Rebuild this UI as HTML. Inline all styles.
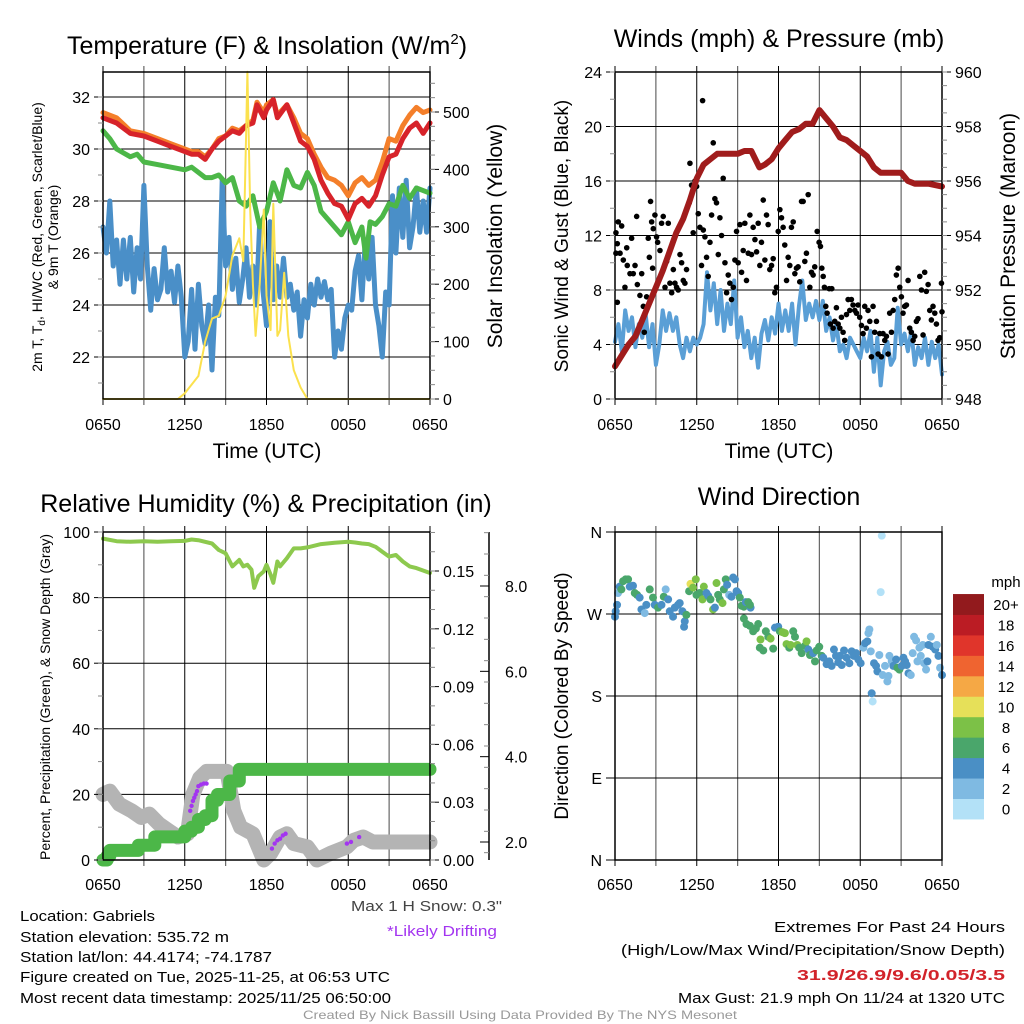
<!DOCTYPE html>
<html><head><meta charset="utf-8"><style>
html,body{margin:0;padding:0;background:#fff}
svg{display:block;font-family:"Liberation Sans",Arial,sans-serif}
</style></head><body>
<svg id="fig" width="1024" height="1024" viewBox="0 0 1024 1024" xmlns="http://www.w3.org/2000/svg">
<rect width="1024" height="1024" fill="#fff"/>
<g id="grids"></g><g id="series"></g><g id="axes"></g>
<g font-size="25" text-anchor="middle" fill="#000">
<text x="267" y="54">Temperature (F) &amp; Insolation (W/m<tspan dy="-10" font-size="15">2</tspan><tspan dy="10">)</tspan></text>
<text x="779" y="47">Winds (mph) &amp; Pressure (mb)</text>
<text x="266" y="512">Relative Humidity (%) &amp; Precipitation (in)</text>
<text x="779" y="505">Wind Direction</text>
</g>
<g font-size="21" text-anchor="middle">
<text x="267" y="458">Time (UTC)</text>
<text x="779" y="458">Time (UTC)</text>
<text transform="translate(502,236) rotate(-90)" font-size="21">Solar Insolation (Yellow)</text>
<text transform="translate(568,236) rotate(-90)" font-size="19">Sonic Wind &amp; Gust (Blue, Black)</text>
<text transform="translate(1015,236) rotate(-90)" font-size="21">Station Pressure (Maroon)</text>
<text transform="translate(568,696) rotate(-90)" font-size="19">Direction (Colored By Speed)</text>
<text transform="translate(42,237) rotate(-90)" font-size="14">2m T, T<tspan font-size="10" dy="3">d</tspan><tspan dy="-3">, HI/WC (Red, Green, Scarlet/Blue)</tspan></text>
<text transform="translate(58,237) rotate(-90)" font-size="14">&amp; 9m T (Orange)</text>
<text transform="translate(50,697) rotate(-90)" font-size="14">Percent, Precipitation (Green), &amp; Snow Depth (Gray)</text>
</g>
<g font-size="15">
<text x="502" y="911" text-anchor="end" fill="#444" textLength="151" lengthAdjust="spacingAndGlyphs">Max 1 H Snow: 0.3"</text>
<text x="497" y="936" text-anchor="end" fill="#a335f0" textLength="110" lengthAdjust="spacingAndGlyphs">*Likely Drifting</text>
<text x="20" y="921" textLength="135" lengthAdjust="spacingAndGlyphs">Location: Gabriels</text>
<text x="20" y="942" textLength="209" lengthAdjust="spacingAndGlyphs">Station elevation: 535.72 m</text>
<text x="20" y="962" textLength="252" lengthAdjust="spacingAndGlyphs">Station lat/lon: 44.4174; -74.1787</text>
<text x="20" y="982" textLength="370" lengthAdjust="spacingAndGlyphs">Figure created on Tue, 2025-11-25, at 06:53 UTC</text>
<text x="20" y="1003" textLength="371" lengthAdjust="spacingAndGlyphs">Most recent data timestamp: 2025/11/25 06:50:00</text>
<text x="1005" y="932" text-anchor="end" textLength="231" lengthAdjust="spacingAndGlyphs">Extremes For Past 24 Hours</text>
<text x="1005" y="955" text-anchor="end" textLength="384" lengthAdjust="spacingAndGlyphs">(High/Low/Max Wind/Precipitation/Snow Depth)</text>
<text x="1005" y="980" text-anchor="end" fill="#d2232a" font-weight="bold" textLength="208" lengthAdjust="spacingAndGlyphs">31.9/26.9/9.6/0.05/3.5</text>
<text x="1005" y="1003" text-anchor="end" textLength="327" lengthAdjust="spacingAndGlyphs">Max Gust: 21.9 mph On 11/24 at 1320 UTC</text>
<text x="520" y="1019" text-anchor="middle" fill="#999" font-size="12" textLength="434" lengthAdjust="spacingAndGlyphs">Created By Nick Bassill Using Data Provided By The NYS Mesonet</text>
</g>
</svg>
<script>
// ---------- data ----------
const xTickLabels=["0650","1250","1850","0050","0650"];
const tempTicks=[22,24,26,28,30,32];
const insolTicks=[0,100,200,300,400,500];
const windTicks=[0,4,8,12,16,20,24];
const presTicks=[948,950,952,954,956,958,960];
const rhTicks=[0,20,40,60,80,100];
const precipTicks=["0.00","0.03","0.06","0.09","0.12","0.15"];
const snowTicks=["2.0","4.0","6.0","8.0"];
const dirTickLabels=["N","E","S","W","N"];
const speedLabels=["0","2","4","6","8","10","12","14","16","18","20+"];
const speedColors=["#b3e1f7","#7fbae2","#4a8fc5","#4aa66b","#7cc147","#e6e059","#f5a845","#ef6430","#e0352b","#bb1c24","#921a1d"];

const tempHours=[0,1,2,3,4,5,6,6.5,7,7.5,8,8.5,9,9.5,10,10.5,11,11.3,11.8,12,12.5,12.8,13.5,14,14.5,15,15.5,16,16.5,17,17.5,18,18.5,19,19.5,20,20.5,21,21.5,22,22.5,23,23.5,24];
const orangeT=[31.4,31.2,30.7,30.6,30.4,30.2,30.0,29.9,29.9,29.7,30.0,30.4,30.5,30.8,30.7,30.9,31.1,31.8,31.4,31.7,31.9,31.3,31.7,31.2,30.6,30.4,29.8,29.3,28.9,28.8,28.6,28.2,28.7,28.9,28.6,28.8,29.5,30.4,30.3,30.9,31.3,31.6,31.4,31.5];
const redT=[31.2,31.0,30.6,30.5,30.3,30.1,29.9,29.8,29.8,29.6,30.0,30.3,30.5,30.7,30.6,30.9,31.0,31.7,31.2,31.5,31.9,31.2,31.7,31.0,30.3,30.1,29.6,28.8,28.3,27.9,27.8,27.3,27.9,28.1,27.8,28.2,29.0,29.7,29.8,30.4,30.8,31.0,30.6,31.0];
const greenHours=[0,0.5,1,2,2.5,3,4,5,6,6.5,7,7.5,8,8.5,9,9.5,10,10.5,11,11.5,12,12.5,13,13.5,14,14.5,15,15.5,16,16.5,17,17.5,18,18.5,19,19.3,19.6,20,20.5,21,21.5,22,22.5,23,23.5,24];
const greenT=[30.7,30.4,30.0,29.7,29.8,29.5,29.4,29.3,29.2,29.3,29.1,28.9,28.9,29.0,28.7,28.9,28.0,27.8,28.2,27.0,27.6,28.7,28.0,29.2,28.6,28.5,29.1,28.6,27.6,27.3,27.0,26.7,27.2,26.4,27.0,25.8,27.2,27.1,27.4,27.9,27.8,28.6,28.1,28.5,28.4,28.3];
const blueT=[27.0,26.0,28.0,25.5,26.5,24.8,26.5,25.0,26.6,24.5,26.2,25.0,28.6,25.5,23.8,25.4,24.2,24.6,26.2,24.5,25.3,24.1,25.5,24.3,22.0,22.6,24.6,22.3,24.8,23.2,22.5,24.0,21.5,24.3,23.6,28.8,25.5,26.6,24.6,25.8,24.1,25.0,26.2,24.3,25.5,24.0,27.2,24.5,23.2,27.2,24.2,25.5,24.3,25.8,24.3,24.8,23.8,24.5,22.8,24.2,23.5,24.8,24.0,25.0,24.3,24.9,24.2,24.6,22.0,23.0,22.3,23.5,24.0,23.8,25.3,25.9,24.2,26.5,25.0,26.6,24.0,23.2,22.0,24.5,24.0,28.2,26.0,28.5,26.6,28.8,26.2,27.0,28.5,26.8,28.0,26.8,28.5];
const insolHours=[0,5.5,6,7,7.5,8,8.5,9,9.5,10,10.3,10.5,10.6,10.8,11.0,11.2,11.5,11.8,12.0,12.3,12.5,12.8,13.0,13.3,13.6,14.0,14.5,15,24];
const insolation=[0,0,10,40,100,140,145,180,250,280,240,460,570,330,200,110,200,330,180,120,340,110,120,220,110,50,20,0,0];

const presHours=[0,0.5,1,1.5,2,2.5,3,3.5,4,4.5,5,5.5,6,6.5,7,7.5,8,8.5,9,9.5,10,10.6,11,11.5,12,12.5,13,13.5,14,14.5,15,15.5,16,16.5,17,17.5,18,18.5,19,19.5,20,20.5,21,21.5,22,23,24];
const pressure=[949.2,949.6,950.0,950.3,950.9,951.5,952.1,952.7,953.4,954.1,954.6,955.3,956.1,956.6,956.8,957.0,957.0,957.0,957.0,957.1,957.1,956.5,956.6,956.8,957.2,957.5,957.8,957.9,958.1,958.1,958.6,958.3,958.0,957.6,957.5,957.3,957.1,956.9,956.5,956.3,956.3,956.3,956.3,956.0,955.9,955.9,955.8];
const sonicWind=[4.2,5.5,3.5,6.5,5.0,6.0,3.8,5.5,4.5,6.2,3.8,5.5,2.5,4.0,6.5,5.0,6.3,5.0,6.0,4.0,3.0,4.5,3.5,4.5,4.0,4.5,5.5,9.3,6.5,8.5,5.5,8.0,5.0,7.0,5.5,8.7,4.5,6.0,3.8,5.0,3.0,4.5,2.3,4.8,5.8,4.3,6.0,4.8,7.0,5.0,6.5,5.0,7.0,4.0,6.8,8.7,5.8,7.0,6.0,7.2,5.8,7.2,5.0,6.0,4.3,5.5,3.5,4.0,3.0,4.5,4.0,3.5,3.0,4.5,3.5,5.0,2.0,4.5,1.0,3.5,4.2,2.5,3.0,6.7,4.0,4.8,3.5,5.0,2.5,3.8,3.0,4.5,2.5,4.2,3.0,4.0,1.8];
const gustHours=[0.07,0.07,0.24,0.17,0.17,0.49,0.37,0.61,0.73,0.86,0.9,1.1,1.22,1.34,1.47,1.59,1.64,1.83,1.96,2.08,2.15,2.32,2.44,2.52,2.61,2.69,2.81,2.76,2.93,3.05,3.13,3.3,3.42,3.54,3.67,3.79,3.91,4.03,4.16,4.28,4.4,4.52,4.64,4.77,4.89,5.01,5.13,5.25,5.45,5.5,5.62,5.74,5.87,5.99,6.11,6.23,6.35,6.43,6.48,6.6,6.72,6.84,6.97,7.09,7.21,7.33,7.45,7.58,7.7,7.82,7.94,8.07,8.19,8.31,8.43,8.55,8.68,8.8,8.92,9.04,9.17,9.29,9.41,9.53,9.65,9.78,9.9,10.02,10.14,10.27,10.39,10.51,10.63,10.75,10.88,11.0,11.12,11.24,11.36,11.49,11.61,11.73,11.85,11.98,12.1,12.22,12.34,12.46,12.59,12.71,12.83,12.95,13.08,13.2,13.32,13.44,13.56,13.69,13.81,13.93,14.05,14.18,14.3,14.42,14.54,14.66,14.84,14.98,15.08,15.18,15.28,15.37,15.47,15.57,15.72,15.81,15.91,16.01,16.13,16.25,16.38,16.5,16.62,16.74,16.86,16.99,17.11,17.23,17.35,17.47,17.6,17.72,17.84,17.96,18.09,18.21,18.33,18.45,18.57,18.7,18.82,18.94,19.06,19.19,19.31,19.43,19.55,19.67,19.8,19.92,20.04,20.16,20.29,20.41,20.53,20.65,20.78,20.9,21.02,21.14,21.26,21.39,21.51,21.63,21.75,21.88,22.0,22.12,22.24,22.37,22.49,22.61,22.73,22.85,22.98,23.1,23.22,23.34,23.47,23.59,23.71,23.83,23.96,24.0];
const gustSpeed=[12.2,10.7,13.0,11.4,7.1,12.7,10.7,10.2,8.2,11.1,9.8,9.2,11.8,9.2,9.8,13.4,8.4,7.6,9.2,6.8,4.9,7.5,11.8,10.4,14.5,13.0,12.5,9.6,13.5,11.9,11.5,10.9,12.9,13.4,8.2,10.1,12.9,8.5,7.8,9.5,8.5,8.2,8.0,10.6,10.0,8.7,8.5,9.5,14.4,17.3,15.7,12.2,16.0,15.6,13.6,12.6,9.8,21.9,12.4,11.9,10.4,9.0,11.5,13.5,18.8,14.7,14.4,10.6,13.3,12.0,16.2,10.0,7.8,9.1,8.5,7.3,8.2,10.2,12.3,10.0,12.8,9.3,10.9,12.9,8.7,10.7,13.5,10.6,12.6,11.7,10.8,12.9,9.8,11.5,14.6,10.2,13.5,12.8,9.5,9.8,10.3,7.8,8.2,12.3,13.9,13.3,12.6,11.3,8.7,10.4,9.8,12.6,13.0,9.2,9.6,9.7,8.6,14.5,14.5,10.1,10.7,15.0,8.2,9.3,9.1,9.7,12.3,11.5,11.2,9.6,9.0,8.2,6.8,6.3,8.1,5.5,8.1,5.2,5.7,6.7,5.5,5.2,6.0,4.9,4.3,6.2,7.3,6.5,7.3,6.9,6.5,6.3,6.9,6.0,5.4,4.8,6.8,5.2,6.5,5.7,3.1,6.8,4.9,5.7,3.3,4.8,3.1,4.8,4.3,4.6,3.3,6.3,4.9,6.5,7.3,9.1,9.6,8.2,7.5,6.3,6.8,6.9,8.7,5.2,4.9,4.3,4.6,5.7,5.9,9.0,8.0,4.7,9.3,7.9,8.4,6.5,5.8,6.8,6.3,5.5,4.3,4.5,8.5,6.4];

const rhHours=[0,1,2,3,4,5,6,6.5,7,8,8.5,9,9.5,10,10.3,10.6,10.9,11.1,11.4,11.8,12,12.3,12.5,12.8,13,13.5,14,14.5,15,16,17,18,18.5,19,19.5,20,20.5,21,21.5,22,22.5,23,24];
const rh=[98,97.2,97,97.2,97,97.2,97.3,97.7,97.5,96.5,94.5,93.5,89.5,91.5,89.5,90,88.5,83,86.5,88,90,87,84.5,91,89.5,92,95,95,95.3,96.3,96.7,97,96.8,96.5,96.3,95.5,94,92.5,93,91,89.5,89,87.5];
const precipHours=[0,0.3,0.5,2.5,2.6,3.7,3.8,5.8,6.0,6.5,7.0,7.5,8.0,8.4,9.0,9.3,9.8,10.0,24];
const precip=[0,0.002,0.005,0.005,0.0077,0.0077,0.012,0.012,0.015,0.017,0.021,0.023,0.031,0.034,0.034,0.041,0.041,0.047,0.047];
const snowHours=[0,0.5,1.2,2.1,2.8,3.4,4.1,4.8,5.5,6.2,6.6,7.1,7.6,9.1,9.6,10.1,11.0,11.8,12.3,13.0,13.5,14.0,15.0,15.7,16.7,17.9,18.4,19.1,19.8,24];
const snowDepth=[20,21,17,15,13,14,11,9,7,8,20,25,27,27,15,10,8,0,2,7,8,5,4,0,2,4,6,7,5.5,5.5];
const driftHours=[6.4,6.5,6.6,6.7,6.8,6.9,7.0,7.2,7.4,7.6,12.4,12.6,12.8,13.0,13.2,13.4,17.9,18.2,18.8];
const driftValues=[15,16.5,18,19,20,21,22.5,23,23.3,23.3,3.5,5,6,6.5,7.5,8,5,5.5,7];

const dirHours=[0,0.05,0.15,0.22,0.34,0.47,0.59,0.78,0.96,1.08,1.32,1.45,1.62,1.81,1.94,2.18,2.3,2.55,2.79,2.92,3.16,3.41,3.58,3.72,3.9,4.02,4.26,4.39,4.63,4.75,4.95,5.12,5.24,5.07,5.44,5.54,5.73,5.93,5.98,6.22,6.42,6.52,6.71,6.84,7.01,7.2,7.33,7.45,7.57,7.69,7.89,7.99,8.13,8.23,8.38,8.55,8.67,8.8,8.92,9.04,9.16,9.29,9.46,9.6,9.78,9.95,9.9,9.46,9.65,9.9,10.14,10.34,10.51,10.68,10.63,10.88,11.07,11.25,11.42,11.61,11.74,11.98,12.1,12.3,12.47,12.59,12.79,12.89,13.08,13.21,13.38,13.52,13.7,13.94,14.06,14.19,14.31,14.55,14.68,14.8,14.99,15.17,15.29,15.53,15.73,15.9,16.07,16.22,16.39,16.51,16.64,16.81,17.0,17.2,17.37,17.54,17.69,17.86,18.03,18.23,18.35,18.52,18.6,18.67,18.77,18.84,18.91,19.01,19.16,19.26,19.4,19.5,19.58,19.65,19.82,19.99,20.07,20.14,20.31,20.43,20.63,20.73,20.87,21.05,21.17,21.29,21.41,21.54,21.71,21.85,21.95,22.1,22.2,22.34,22.44,22.59,22.69,22.83,22.93,23.01,23.18,23.32,23.5,23.62,23.74,23.86,24.0];
const dirDegrees=[267,273,280,293,300,297,306,308,308,300,301,293,291,288,275,271,280,297,288,280,277,280,289,297,286,273,267,277,280,282,273,262,269,256,295,303,299,308,291,293,286,300,293,290,286,275,277,304,291,286,282,297,308,302,291,289,310,308,295,293,288,279,278,283,283,277,280,265,259,257,251,254,259,242,233,230,251,245,243,232,255,256,251,250,249,237,233,236,251,245,236,233,227,235,240,231,225,227,218,230,234,224,222,215,218,213,231,224,217,224,214,230,222,216,229,224,227,220,216,233,238,240,249,253,229,183,174,216,213,207,225,294,356,203,213,196,202,224,218,213,220,211,209,213,222,218,214,205,203,227,245,241,218,233,224,236,216,209,218,236,245,234,231,236,224,211,203];
const dirSpeeds=[4.5,4.5,4.5,2.5,4.5,6.5,6.5,6.5,6.5,4.5,4.5,6.5,6.5,4.5,4.5,2.5,4.5,6.5,6.5,4.5,6.5,4.5,6.5,2.5,4.5,4.5,4.5,4.5,4.5,4.5,4.5,4.5,6.5,4.5,6.5,10.5,8.5,8.5,6.5,6.5,8.5,8.5,4.5,4.5,6.5,8.5,4.5,8.5,6.5,6.5,8.5,6.5,6.5,4.5,2.5,4.5,4.5,4.5,4.5,4.5,6.5,6.5,6.5,4.5,6.5,4.5,6.5,6.5,6.5,6.5,6.5,6.5,6.5,8.5,6.5,6.5,6.5,6.5,8.5,6.5,4.5,4.5,6.5,8.5,8.5,8.5,6.5,8.5,6.5,6.5,8.5,6.5,6.5,6.5,8.5,4.5,6.5,4.5,6.5,6.5,6.5,6.5,4.5,4.5,4.5,4.5,4.5,4.5,4.5,4.5,4.5,4.5,4.5,4.5,4.5,4.5,4.5,4.5,4.5,2.5,4.5,4.5,2.5,2.5,2.5,4.5,0.5,4.5,4.5,4.5,2.5,0.5,0.5,2.5,2.5,2.5,2.5,2.5,2.5,4.5,4.5,6.5,6.5,4.5,4.5,4.5,4.5,4.5,2.5,2.5,2.5,2.5,2.5,2.5,2.5,2.5,2.5,2.5,4.5,4.5,2.5,4.5,4.5,2.5,4.5,2.5,4.5];

// ---------- helpers ----------
const NS="http://www.w3.org/2000/svg";
const G=id=>document.getElementById(id);
function mk(tag,attrs,parent){const e=document.createElementNS(NS,tag);for(const k in attrs)e.setAttribute(k,attrs[k]);(parent||G('series')).appendChild(e);return e;}
function lin(d0,d1,r0,r1){return v=>r0+(v-d0)/(d1-d0)*(r1-r0);}
function pathFrom(xs,ys,fx,fy){return xs.map((t,i)=>(i?'L':'M')+fx(t).toFixed(1)+','+fy(ys[i]).toFixed(1)).join('');}
function uniformHours(n){return Array.from({length:n},(_,i)=>i*24/(n-1));}

const P=[{x0:103,x1:430,y0:72,y1:399,lo:31},{x0:615,x1:942,y0:72,y1:399,lo:31},{x0:103,x1:430,y0:532,y1:860,lo:30},{x0:615,x1:942,y0:532,y1:860,lo:30}];
const TF=16;

P.forEach((p,k)=>{
  const fx=lin(0,24,p.x0,p.x1);
  for(let h=0;h<=24;h+=3){
    const l=mk('line',{x1:fx(h),x2:fx(h),y1:p.y0-6,y2:p.y1+6,stroke:'#000','stroke-width':(h%6?1.2:1),'stroke-opacity':(h%6?0.6:1)},G('grids'));
    
    
  }
  xTickLabels.forEach((s,i)=>{
    const t=mk('text',{x:fx(i*6),y:p.y1+p.lo,'font-size':TF,'text-anchor':'middle'},G('axes'));t.textContent=s;
    
    
  });
  const r=mk('rect',{x:p.x0,y:p.y0,width:p.x1-p.x0,height:p.y1-p.y0,fill:'none',stroke:'#000','stroke-width':1.5},G('axes'));
  
  
});
function yAxis(p,ticks,fy,labels,side,grid,minorStep,d0,d1){
  ticks.forEach((v,i)=>{
    const y=fy(v);
    if(grid){const g=mk('line',{x1:p.x0,x2:p.x1,y1:y,y2:y,stroke:'#000','stroke-width':1},G('grids'));
      
      }
    const xe=side==='l'?p.x0:p.x1;
    mk('line',{x1:xe,x2:xe+(side==='l'?-9:9),y1:y,y2:y,stroke:'#000','stroke-width':1},G('axes'));
    const t=mk('text',{x:side==='l'?p.x0-13:p.x1+13,y:y+6,'font-size':TF,'text-anchor':side==='l'?'end':'start'},G('axes'));
    t.textContent=labels?labels[i]:v;
    
    
  });
  if(minorStep){for(let v=d0;v<=d1+1e-9;v+=minorStep){const y=fy(v);const xe=side==='l'?p.x0:p.x1;
    mk('line',{x1:xe,x2:xe+(side==='l'?-5:5),y1:y,y2:y,stroke:'#888','stroke-width':1},G('axes'));}}
}
// Panel 1
const p1=P[0];
const fx1=lin(0,24,p1.x0,p1.x1), fyT=lin(22,32,357,97), fyI=lin(0,500,399,112);
yAxis(p1,tempTicks,fyT,null,'l',true,1,21,32);
yAxis(p1,insolTicks,fyI,null,'r',false,25,0,550);
function drawLine(xs,ys,fx,fy,color,w,name){const e=mk('path',{d:pathFrom(xs,ys,fx,fy),fill:'none',stroke:color,'stroke-width':w,'stroke-linejoin':'round','stroke-linecap':'round'});
  
  return e;}
drawLine(uniformHours(blueT.length),blueT,fx1,fyT,'#4a8fc8',5,'dewpoint-line');
drawLine(greenHours,greenT,fx1,fyT,'#4cb748',5,'wetbulb-line');
drawLine(tempHours,orangeT,fx1,fyT,'#f47f2a',5,'9m-temperature-line');
drawLine(tempHours,redT,fx1,fyT,'#d7232a',5,'2m-temperature-line');
drawLine(insolHours,insolation,fx1,fyI,'#fbe14e',2,'insolation-line');

// Panel 2
const p2=P[1];
const fx2=lin(0,24,p2.x0,p2.x1), fyW=lin(0,24,p2.y1,p2.y0), fyP=lin(948,960,p2.y1,p2.y0);
yAxis(p2,windTicks,fyW,null,'l',true,2,0,24);
yAxis(p2,presTicks,fyP,null,'r',false,0.5,948,960);
drawLine(uniformHours(sonicWind.length),sonicWind,fx2,fyW,'#5a9fd6',4,'sonic-wind-line');
gustHours.forEach((h,i)=>{const c=mk('circle',{cx:fx2(h),cy:fyW(gustSpeed[i]),r:2.8,fill:'#000'});
  
  });
drawLine(presHours,pressure,fx2,fyP,'#a01c1c',6,'pressure-line');

// Panel 3
const p3=P[2];
const fx3=lin(0,24,p3.x0,p3.x1), fyR=lin(0,100,p3.y1,p3.y0), fyPr=lin(0,0.15,860,571), fyS=lin(2,8,842,586);
yAxis(p3,rhTicks,fyR,null,'l',true,10,0,100);
yAxis(p3,precipTicks.map(Number),fyPr,precipTicks,'r',false,0.01,0,0.17);
mk('line',{x1:489,x2:489,y1:532,y2:860,stroke:'#000','stroke-width':1.5},G('axes'));
snowTicks.forEach(s=>{const y=fyS(Number(s));mk('line',{x1:489,x2:480,y1:y,y2:y,stroke:'#000'},G('axes'));
  const t=mk('text',{x:505,y:y+6,'font-size':TF},G('axes'));t.textContent=s;
  
  });
for(let v=1.75;v<=9.25;v+=0.5){const y=fyS(v);mk('line',{x1:489,x2:484,y1:y,y2:y,stroke:'#888'},G('axes'));}
drawLine(snowHours,snowDepth,fx3,fyR,'#b4b4b4',15,'snow-depth-line');
driftHours.forEach((h,i)=>{const c=mk('circle',{cx:fx3(h),cy:fyR(driftValues[i]),r:2.2,fill:'#a335f0'});
  
  });
(function(){const sx=[],sy=[];precipHours.forEach((h,i)=>{if(i){sx.push(h);sy.push(precip[i-1]);}sx.push(h);sy.push(precip[i]);});
  drawLine(sx,sy,fx3,fyPr,'#4cb748',13,'precipitation-line');})();
drawLine(rhHours,rh,fx3,fyR,'#8dc94e',4,'humidity-line');

// Panel 4
const p4=P[3];
const fx4=lin(0,24,p4.x0,p4.x1), fyD=lin(0,360,p4.y1,p4.y0);
yAxis(p4,[0,90,180,270,360],fyD,dirTickLabels,'l',true,0,0,0);
dirHours.forEach((h,i)=>{const b=Math.min(10,Math.floor(dirSpeeds[i]/2));
  const c=mk('circle',{cx:fx4(h),cy:fyD(dirDegrees[i]),r:4,fill:speedColors[b]});
  
  });
const fyC=i=>819-(i+1)*20.45;
speedColors.forEach((c,i)=>{const r=mk('rect',{x:953,y:fyC(i),width:31,height:20.9,fill:c},G('axes'));
  
  
  const t=mk('text',{x:1006,y:fyC(i)+16,'font-size':15,'text-anchor':'middle'},G('axes'));t.textContent=speedLabels[i];
  
  });
const mph=mk('text',{x:1006,y:587,'font-size':15,'text-anchor':'middle'},G('axes'));mph.textContent='mph';


</script>
</body></html>
